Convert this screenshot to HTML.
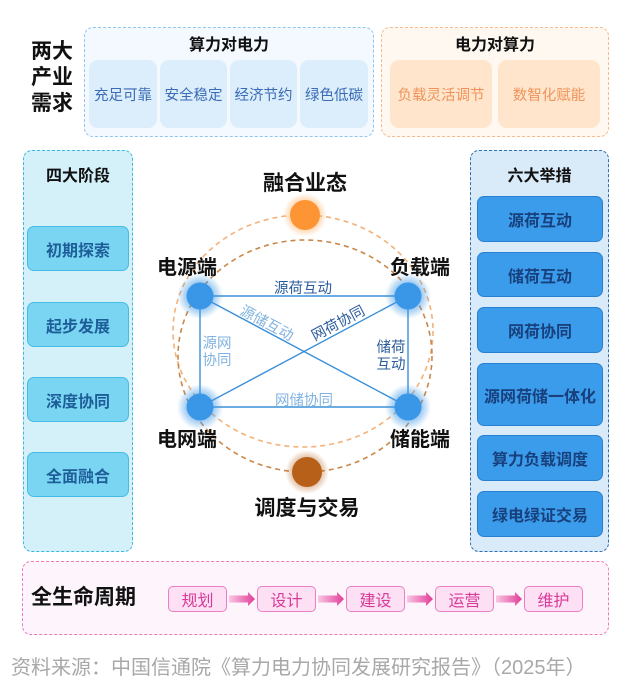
<!DOCTYPE html>
<html><head><meta charset="utf-8"><style>
*{margin:0;padding:0;box-sizing:border-box}
body{width:630px;height:699px;background:#fff;position:relative;overflow:hidden;font-family:"Liberation Sans","Noto Sans CJK SC",sans-serif}
.a{position:absolute}
.c{display:flex;align-items:center;justify-content:center;text-align:center}
.b{font-weight:bold}
</style></head><body>
<!-- 两大产业需求 -->
<div class="a b" style="left:31px;top:39px;width:48px;font-size:21px;line-height:26px;color:#111;">两大<br>产业<br>需求</div>

<!-- 算力对电力 -->
<div class="a" style="left:84px;top:27px;width:290px;height:110px;background:#f3f9fe;border:1.5px dashed #8ec6f0;border-radius:9px;"></div>
<div class="a c b" style="left:84px;top:32px;width:290px;height:22px;font-size:16px;color:#111;">算力对电力</div>
<div class="a c" style="left:89px;top:60px;width:68px;height:68px;background:#dcedfc;border-radius:9px;font-size:14.5px;color:#3a6cb5;">充足可靠</div>
<div class="a c" style="left:160px;top:60px;width:67px;height:68px;background:#dcedfc;border-radius:9px;font-size:14.5px;color:#3a6cb5;">安全稳定</div>
<div class="a c" style="left:230px;top:60px;width:67px;height:68px;background:#dcedfc;border-radius:9px;font-size:14.5px;color:#3a6cb5;">经济节约</div>
<div class="a c" style="left:300px;top:60px;width:68px;height:68px;background:#dcedfc;border-radius:9px;font-size:14.5px;color:#3a6cb5;">绿色低碳</div>

<!-- 电力对算力 -->
<div class="a" style="left:381px;top:27px;width:228px;height:110px;background:#fff8f1;border:1.5px dashed #f6bb8c;border-radius:9px;"></div>
<div class="a c b" style="left:381px;top:32px;width:228px;height:22px;font-size:16px;color:#111;">电力对算力</div>
<div class="a c" style="left:390px;top:60px;width:102px;height:68px;background:#ffe5cc;border-radius:9px;font-size:14.5px;color:#f0935a;">负载灵活调节</div>
<div class="a c" style="left:498px;top:60px;width:102px;height:68px;background:#ffe5cc;border-radius:9px;font-size:14.5px;color:#f0935a;">数智化赋能</div>

<!-- 四大阶段 -->
<div class="a" style="left:23px;top:150px;width:110px;height:402px;background:#d4f1fa;border:1.5px dashed #3cb8e0;border-radius:9px;"></div>
<div class="a c b" style="left:23px;top:163px;width:110px;height:22px;font-size:16px;color:#111;">四大阶段</div>
<div class="a c b" style="left:27px;top:226px;width:102px;height:45px;background:#7ad5f2;border:1.5px solid #45bce6;border-radius:7px;font-size:16px;color:#1d5e98;">初期探索</div>
<div class="a c b" style="left:27px;top:302px;width:102px;height:45px;background:#7ad5f2;border:1.5px solid #45bce6;border-radius:7px;font-size:16px;color:#1d5e98;">起步发展</div>
<div class="a c b" style="left:27px;top:377px;width:102px;height:45px;background:#7ad5f2;border:1.5px solid #45bce6;border-radius:7px;font-size:16px;color:#1d5e98;">深度协同</div>
<div class="a c b" style="left:27px;top:452px;width:102px;height:45px;background:#7ad5f2;border:1.5px solid #45bce6;border-radius:7px;font-size:16px;color:#1d5e98;">全面融合</div>

<!-- 六大举措 -->
<div class="a" style="left:470px;top:150px;width:139px;height:402px;background:#d9eaf8;border:1.5px dashed #2f6fb4;border-radius:9px;"></div>
<div class="a c b" style="left:470px;top:163px;width:139px;height:22px;font-size:16px;color:#111;">六大举措</div>
<div class="a c b" style="left:477px;top:196px;width:126px;height:46px;background:#3c9cec;border:1.5px solid #2a80d0;border-radius:7px;font-size:16px;color:#17407c;">源荷互动</div>
<div class="a c b" style="left:477px;top:252px;width:126px;height:45px;background:#3c9cec;border:1.5px solid #2a80d0;border-radius:7px;font-size:16px;color:#17407c;">储荷互动</div>
<div class="a c b" style="left:477px;top:307px;width:126px;height:46px;background:#3c9cec;border:1.5px solid #2a80d0;border-radius:7px;font-size:16px;color:#17407c;">网荷协同</div>
<div class="a c b" style="left:477px;top:363px;width:126px;height:63px;background:#3c9cec;border:1.5px solid #2a80d0;border-radius:7px;font-size:16px;color:#17407c;white-space:nowrap;">源网荷储一体化</div>
<div class="a c b" style="left:477px;top:435px;width:126px;height:46px;background:#3c9cec;border:1.5px solid #2a80d0;border-radius:7px;font-size:16px;color:#17407c;">算力负载调度</div>
<div class="a c b" style="left:477px;top:491px;width:126px;height:46px;background:#3c9cec;border:1.5px solid #2a80d0;border-radius:7px;font-size:16px;color:#17407c;">绿电绿证交易</div>

<!-- center diagram -->
<svg class="a" style="left:0;top:0" width="630" height="699" viewBox="0 0 630 699">
<defs>
<radialGradient id="gb"><stop offset="0.5" stop-color="#3a96e6" stop-opacity="0.6"/><stop offset="1" stop-color="#3a96e6" stop-opacity="0"/></radialGradient>
<radialGradient id="go"><stop offset="0.55" stop-color="#ff9a3c" stop-opacity="0.5"/><stop offset="1" stop-color="#ff9a3c" stop-opacity="0"/></radialGradient>
<radialGradient id="gr"><stop offset="0.55" stop-color="#b8601a" stop-opacity="0.5"/><stop offset="1" stop-color="#b8601a" stop-opacity="0"/></radialGradient>
</defs>
<ellipse cx="303" cy="331" rx="130" ry="116" fill="none" stroke="#f2b27a" stroke-width="1.6" stroke-dasharray="5,4"/>
<ellipse cx="305" cy="356" rx="127" ry="116" fill="none" stroke="#c9874a" stroke-width="1.6" stroke-dasharray="5,4"/>
<g stroke="#3a90d8" stroke-width="1.4">
<line x1="200" y1="296" x2="408" y2="296"/>
<line x1="200" y1="407" x2="408" y2="407"/>
<line x1="200" y1="296" x2="200" y2="407"/>
<line x1="408" y1="296" x2="408" y2="407"/>
<line x1="200" y1="296" x2="408" y2="407"/>
<line x1="200" y1="407" x2="408" y2="296"/>
</g>
<circle cx="200" cy="296" r="23" fill="url(#gb)"/><circle cx="200" cy="296" r="13.5" fill="#3a96e6"/>
<circle cx="408" cy="296" r="23" fill="url(#gb)"/><circle cx="408" cy="296" r="13.5" fill="#3a96e6"/>
<circle cx="200" cy="407" r="23" fill="url(#gb)"/><circle cx="200" cy="407" r="13.5" fill="#3a96e6"/>
<circle cx="408" cy="407" r="23" fill="url(#gb)"/><circle cx="408" cy="407" r="13.5" fill="#3a96e6"/>
<circle cx="305" cy="215" r="22" fill="url(#go)"/><circle cx="305" cy="215" r="15" fill="#fd9535"/>
<circle cx="307" cy="472" r="22" fill="url(#gr)"/><circle cx="307" cy="472" r="15" fill="#b6601a"/>
<g font-family="Liberation Sans, Noto Sans CJK SC, sans-serif" font-size="14.5" text-anchor="middle">
<text x="303" y="293" fill="#2b5c9c">源荷互动</text>
<text x="267" y="328" fill="#82b3e0" transform="rotate(28 267 323)">源储互动</text>
<text x="338" y="328" fill="#2b5c9c" transform="rotate(-28 338 323)">网荷协同</text>
<text x="217" y="348" fill="#82b3e0">源网</text>
<text x="217" y="365" fill="#82b3e0">协同</text>
<text x="391" y="352" fill="#2b5c9c">储荷</text>
<text x="391" y="369" fill="#2b5c9c">互动</text>
<text x="304" y="405" fill="#82b3e0">网储协同</text>
</g>
<g font-family="Liberation Sans, Noto Sans CJK SC, sans-serif" font-size="20" font-weight="bold" text-anchor="middle" fill="#111">
<text x="305" y="190" font-size="21">融合业态</text>
<text x="187" y="274">电源端</text>
<text x="420" y="274">负载端</text>
<text x="187" y="446">电网端</text>
<text x="420" y="446">储能端</text>
<text x="307" y="515" font-size="21">调度与交易</text>
</g>
</svg>

<!-- 全生命周期 -->
<div class="a" style="left:22px;top:561px;width:587px;height:74px;background:#fef5fc;border:1.5px dashed #f07ab8;border-radius:9px;"></div>
<div class="a b" style="left:31px;top:585px;font-size:21px;line-height:26px;color:#111;">全生命周期</div>
<div class="a c" style="left:168px;top:586px;width:59px;height:26px;background:#fde0f4;border:1.5px solid #ea7fc2;border-radius:5px;font-size:16px;color:#d83a98;">规划</div>
<div class="a c" style="left:257px;top:586px;width:59px;height:26px;background:#fde0f4;border:1.5px solid #ea7fc2;border-radius:5px;font-size:16px;color:#d83a98;">设计</div>
<div class="a c" style="left:346px;top:586px;width:59px;height:26px;background:#fde0f4;border:1.5px solid #ea7fc2;border-radius:5px;font-size:16px;color:#d83a98;">建设</div>
<div class="a c" style="left:435px;top:586px;width:59px;height:26px;background:#fde0f4;border:1.5px solid #ea7fc2;border-radius:5px;font-size:16px;color:#d83a98;">运营</div>
<div class="a c" style="left:524px;top:586px;width:59px;height:26px;background:#fde0f4;border:1.5px solid #ea7fc2;border-radius:5px;font-size:16px;color:#d83a98;">维护</div>
<svg class="a" style="left:0;top:580px" width="630" height="40">
<defs><linearGradient id="pk" x1="0" x2="1"><stop offset="0" stop-color="#f9c6e4"/><stop offset="1" stop-color="#e23c97"/></linearGradient></defs>
<g fill="url(#pk)">
<polygon points="229,15.5 248,15.5 248,12 255,19 248,26 248,22.5 229,22.5"/>
<polygon points="318,15.5 337,15.5 337,12 344,19 337,26 337,22.5 318,22.5"/>
<polygon points="407,15.5 426,15.5 426,12 433,19 426,26 426,22.5 407,22.5"/>
<polygon points="496,15.5 515,15.5 515,12 522,19 515,26 515,22.5 496,22.5"/>
</g>
</svg>

<div class="a" style="left:11px;top:655px;font-size:20px;line-height:26px;color:#a8a8a8;white-space:nowrap;">资料来源：中国信通院《算力电力协同发展研究报告》（2025年）</div>
</body></html>
